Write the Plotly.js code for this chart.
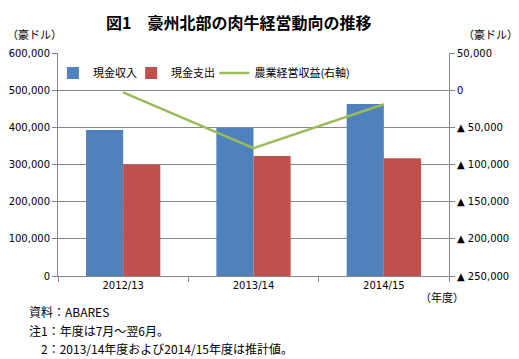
<!DOCTYPE html>
<html><head><meta charset="utf-8">
<script src="https://cdn.plot.ly/plotly-3.0.1.min.js"></script>
<style>body{margin:0;background:#fff}#c{width:519px;height:359px}</style>
</head><body><div id="c"></div>
<script>
const categories = ['2012/13', '2013/14', '2014/15'];
const cashIncome = [393000, 398000, 463000];
const cashExpense = [300000, 323000, 317000];
const farmIncome = [-3000, -78000, -19000];
const leftTicks = [0, 100000, 200000, 300000, 400000, 500000, 600000];
const leftTickText = ['0', '100,000', '200,000', '300,000', '400,000', '500,000', '600,000'];
const rightTicks = [50000, 0, -50000, -100000, -150000, -200000, -250000];
const rightTickText = ['50,000', '0', '▲ 50,000', '▲ 100,000', '▲ 150,000', '▲ 200,000', '▲ 250,000'];
const seriesNames = ['現金収入', '現金支出', '農業経営収益(右軸)'];

const F = '"Noto Sans CJK JP", "DejaVu Sans", sans-serif';
const N = '"DejaVu Sans", "Noto Sans CJK JP", sans-serif';
const data = [
  {type:'bar', name:seriesNames[0], x:categories, y:cashIncome, marker:{color:'#4F81BD'}, legend:'legend'},
  {type:'bar', name:seriesNames[1], x:categories, y:cashExpense, marker:{color:'#C0504D'}, legend:'legend2'},
  {type:'scatter', mode:'lines', name:seriesNames[2], x:categories, y:farmIncome, yaxis:'y2',
   line:{color:'#9BBB59', width:2.5}, legend:'legend3'}
];
const lg = (x) => ({orientation:'h', x:x, y:0.975, xanchor:'left', yanchor:'top',
    font:{family:F, size:11}, bgcolor:'rgba(0,0,0,0)', itemwidth:30});
const layout = {
  width:519, height:359,
  margin:{l:58, r:70, t:53, b:83},
  paper_bgcolor:'#fff', plot_bgcolor:'#fff',
  font:{family:F, size:11, color:'#000'},
  barmode:'group', bargap:0.43, bargroupgap:0,
  showlegend:true,
  legend:lg(-0.013), legend2:lg(0.187), legend3:lg(0.4),
  xaxis:{type:'category', showline:true, linecolor:'#868686', linewidth:1,
    ticks:'outside', tickson:'boundaries', ticklen:5, tickcolor:'#868686',
    showgrid:false, tickfont:{family:N, size:10}, fixedrange:true},
  yaxis:{range:[0,600000], tickvals:leftTicks, ticktext:leftTickText,
    showline:true, linecolor:'#868686', ticks:'outside', ticklen:5, tickcolor:'#868686',
    showgrid:true, gridcolor:'#868686', gridwidth:1, zeroline:false,
    tickfont:{family:N, size:10}},
  yaxis2:{range:[-250000,50000], overlaying:'y', side:'right', tickvals:rightTicks, ticktext:rightTickText,
    showline:true, linecolor:'#868686', ticks:'outside', ticklen:5, tickcolor:'#868686',
    showgrid:false, zeroline:false, tickfont:{family:N, size:10}},
  title:{text:'<b>図1　豪州北部の肉牛経営動向の推移</b>', x:0.46, xanchor:'center', y:0.935, yanchor:'middle',
    font:{family:F, size:16, color:'#000'}},
  annotations:[
    {text:'（豪ドル）', xref:'paper', yref:'paper', x:-0.135, y:1.085, xanchor:'left', yanchor:'middle', showarrow:false, font:{size:11}},
    {text:'（豪ドル）', xref:'paper', yref:'paper', x:1.03, y:1.085, xanchor:'left', yanchor:'middle', showarrow:false, font:{size:11}},
    {text:'（年度）', xref:'paper', yref:'paper', x:0.92, y:-0.095, xanchor:'left', yanchor:'middle', showarrow:false, font:{size:11}},
    {text:'資料：ABARES', xref:'paper', yref:'paper', x:-0.08, y:-0.16, xanchor:'left', yanchor:'middle', showarrow:false, font:{size:12}},
    {text:'注1：年度は7月～翌6月。', xref:'paper', yref:'paper', x:-0.08, y:-0.245, xanchor:'left', yanchor:'middle', showarrow:false, font:{size:12}},
    {text:'　2：2013/14年度および2014/15年度は推計値。', xref:'paper', yref:'paper', x:-0.08, y:-0.325, xanchor:'left', yanchor:'middle', showarrow:false, font:{size:12}}
  ]
};
Plotly.newPlot('c', data, layout, {displayModeBar:false, staticPlot:true});
</script></body></html>
